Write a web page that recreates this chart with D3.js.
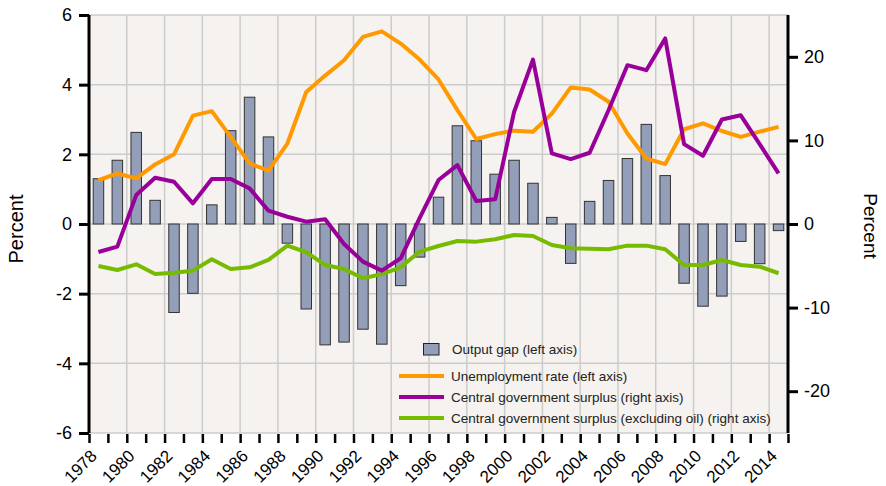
<!DOCTYPE html>
<html>
<head>
<meta charset="utf-8">
<script src="https://cdn.jsdelivr.net/npm/d3@7"></script>
<style>
  body { margin: 0; background: #fff; }
  svg text { font-family: "Liberation Sans", Arial, sans-serif; fill: #000; }
</style>
</head>
<body>
<svg id="chart" width="886" height="486"></svg>
<script>
// data, 1978-2014
var years = d3.range(1978, 2015)

var outputGap = [1.3, 1.83, 2.63, 0.68, -2.54, -1.99, 0.55, 2.68, 3.64, 2.5,
    -0.55, -2.44, -3.47, -3.39, -3.02, -3.45, -1.77, -0.95, 0.77, 2.82,
    2.39, 1.43, 1.83, 1.17, 0.19, -1.13, 0.65, 1.25, 1.88, 2.86,
    1.39, -1.7, -2.36, -2.07, -0.5, -1.14, -0.19]

var unemployment = [1.26, 1.45, 1.31, 1.71, 2.0, 3.11, 3.24, 2.5, 1.74, 1.53,
    2.31, 3.79, 4.26, 4.7, 5.37, 5.53, 5.18, 4.72, 4.15, 3.27,
    2.44, 2.58, 2.68, 2.65, 3.17, 3.92, 3.86, 3.51, 2.6, 1.88,
    1.72, 2.72, 2.89, 2.67, 2.5, 2.65, 2.79]

var surplus = [-3.35, -2.71, 3.46, 5.53, 5.05, 2.47, 5.38, 5.38, 4.26, 1.59,
    0.87, 0.28, 0.56, -2.4, -4.5, -5.58, -4.1, 0.7, 5.26, 7.05,
    2.75, 2.95, 13.4, 19.67, 8.45, 7.77, 8.52, 13.6, 19.0, 18.4,
    22.2, 9.56, 8.16, 12.5, 13.0, 9.56, 6.06]

var surplusNonOil = [-5.02, -5.5, -4.82, -5.97, -5.82, -5.58, -4.22, -5.38, -5.18, -4.3,
    -2.59, -3.38, -4.9, -5.38, -6.49, -6.0, -5.18, -3.3, -2.63, -2.03,
    -2.11, -1.83, -1.31, -1.43, -2.51, -2.9, -2.95, -3.03, -2.59, -2.59,
    -3.03, -4.9, -4.9, -4.3, -4.9, -5.1, -5.89]

var leftTicks = [-6, -4, -2, 0, 2, 4, 6]
var rightTicks = [-20, -10, 0, 10, 20]
var yearLabels = d3.range(1978, 2015, 2)

var legendItems = [
    { label: "Unemployment rate (left axis)", color: "#ff9900" },
    { label: "Central government surplus (right axis)", color: "#990099" },
    { label: "Central government surplus (excluding oil) (right axis)", color: "#77bb00" }
]

var margin = { left: 89, right: 98, top: 15, bottom: 53 }
var width = 886 - margin.left - margin.right
var height = 486 - margin.top - margin.bottom

var svg = d3.select("#chart")
var g = svg.append("g").attr("transform", `translate(${margin.left},${margin.top})`)

var x = d3.scaleLinear().domain([1978, 2015]).range([0, width])
var yL = d3.scaleLinear().domain([-6, 6]).range([height, 0])
var yR = d3.scaleLinear().domain([-25, 25]).range([height, 0])

// plot background
g.append("rect")
    .attr("width", width)
    .attr("height", height)
    .attr("fill", "#f5f2ef")

// grid
g.selectAll(".hgrid").data(leftTicks).enter().append("line")
    .attr("x1", 0).attr("x2", width)
    .attr("y1", d => yL(d)).attr("y2", d => yL(d))
    .attr("stroke", "#cccccc").attr("stroke-width", 1.5)

g.selectAll(".vgrid").data(yearLabels.slice(1)).enter().append("line")
    .attr("x1", d => x(d)).attr("x2", d => x(d))
    .attr("y1", 0).attr("y2", height)
    .attr("stroke", "#cccccc").attr("stroke-width", 1.5)

// bars
var barW = 10.5
g.selectAll(".bar").data(outputGap).enter().append("rect")
    .attr("x", (d, i) => x(years[i] + 0.5) - barW / 2)
    .attr("y", d => yL(Math.max(0, d)))
    .attr("width", barW)
    .attr("height", d => Math.abs(yL(d) - yL(0)))
    .attr("fill", "#939eb9")
    .attr("stroke", "#333")
    .attr("stroke-width", 1)

// lines
function drawLine(values, scale, color) {
    var line = d3.line()
        .x((d, i) => x(years[i] + 0.5))
        .y(d => scale(d))
    g.append("path")
        .datum(values)
        .attr("d", line)
        .attr("fill", "none")
        .attr("stroke", color)
        .attr("stroke-width", 4)
        .attr("stroke-linejoin", "round")
}
drawLine(surplusNonOil, yR, "#77bb00")
drawLine(unemployment, yL, "#ff9900")
drawLine(surplus, yR, "#990099")

// left axis
var leftAxis = g.append("g")
    .call(d3.axisLeft(yL).tickValues(leftTicks).tickSize(10).tickPadding(7).tickFormat(d => String(d)))
leftAxis.select(".domain").attr("stroke-width", 3).attr("d", `M0,0V${height}`)
leftAxis.selectAll(".tick line").attr("stroke-width", 3)
leftAxis.selectAll("text").style("font-size", "18px")

// right axis
var rightAxis = g.append("g")
    .attr("transform", `translate(${width},0)`)
    .call(d3.axisRight(yR).tickValues(rightTicks).tickSize(10).tickPadding(6).tickFormat(d => String(d)))
rightAxis.select(".domain").attr("stroke-width", 3).attr("d", `M0,0V${height}`)
rightAxis.selectAll(".tick line").attr("stroke-width", 3)
rightAxis.selectAll("text").style("font-size", "18px")

// bottom ticks, one per year
var bottomAxis = g.append("g")
    .attr("transform", `translate(0,${height + 1})`)
    .call(d3.axisBottom(x).tickValues(d3.range(1978, 2016)).tickSize(9).tickFormat(""))
bottomAxis.select(".domain").remove()
bottomAxis.selectAll(".tick line").attr("stroke-width", 2.5)

g.selectAll(".year").data(yearLabels).enter().append("text")
    .attr("transform", d => `translate(${x(d) + 9},${height + 24}) rotate(-45)`)
    .attr("text-anchor", "end")
    .style("font-size", "17px")
    .text(d => d)

// axis titles
svg.append("text")
    .attr("transform", "translate(22.5,229) rotate(-90)")
    .attr("text-anchor", "middle")
    .style("font-size", "20px")
    .text("Percent")

svg.append("text")
    .attr("transform", "translate(864,226) rotate(90)")
    .attr("text-anchor", "middle")
    .style("font-size", "19px")
    .text("Percent")

// legend
var legend = svg.append("g")
legend.append("rect")
    .attr("x", 423.5).attr("y", 343.5)
    .attr("width", 15.5).attr("height", 11.5)
    .attr("fill", "#939eb9").attr("stroke", "#222").attr("stroke-width", 1)
legend.append("text")
    .attr("x", 452).attr("y", 349).attr("dy", "0.35em")
    .style("font-size", "13.5px").style("fill", "#222")
    .text("Output gap (left axis)")

legend.selectAll(".li").data(legendItems).enter().append("g")
    .each(function(d, i) {
        var yy = 376 + i * 21
        d3.select(this).append("line")
            .attr("x1", 399).attr("x2", 444)
            .attr("y1", yy).attr("y2", yy)
            .attr("stroke", d.color).attr("stroke-width", 4)
        d3.select(this).append("text")
            .attr("x", 451).attr("y", yy).attr("dy", "0.35em")
            .style("font-size", "13.5px").style("fill", "#222")
            .text(d.label)
    })
</script>
</body>
</html>
